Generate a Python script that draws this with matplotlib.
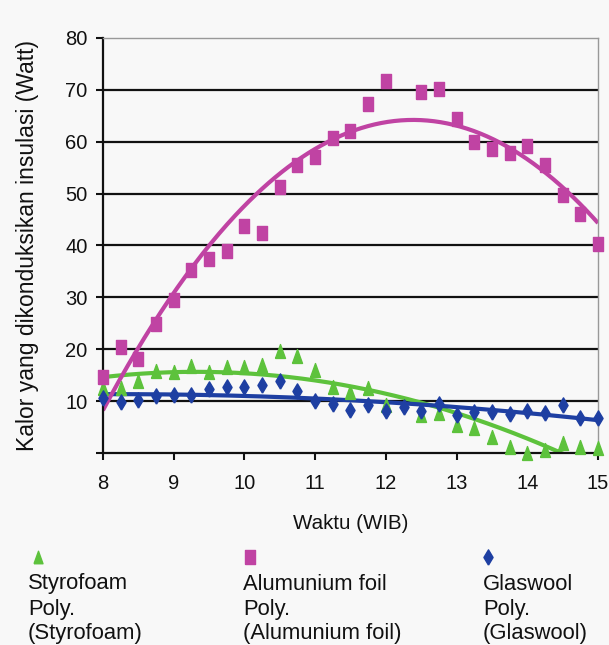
import numpy as np
import matplotlib.pyplot as plt
from matplotlib.lines import Line2D

plt.rcParams['font.family'] = ['Liberation Sans', 'DejaVu Sans']

# Waktu tiap 15 menit, 8.00 - 15.00
waktu = np.arange(8.0, 15.01, 0.25)

styrofoam = [12.5, 12.5, 13.9, 15.8, 15.6, 16.8, 15.6, 16.6, 16.6, 17.0,
             19.7, 18.7, 16.0, 12.7, 11.7, 12.5, 9.2, np.nan, 7.3, 7.7,
             5.4, 4.8, 3.1, 1.2, 0.0, 0.6, 1.9, 1.2, 1.0]

alumunium = [14.6, 20.5, 18.2, 24.9, 29.5, 35.3, 37.4, 39.0, 43.8, 42.4,
             51.2, 55.6, 57.0, 60.7, 62.1, 67.3, 71.8, np.nan, 69.5, 70.1,
             64.4, 60.0, 58.6, 57.8, 59.2, 55.5, 49.7, 46.0, 40.2]

glaswool = [10.6, 9.8, 10.2, 11.0, 11.2, 11.2, 12.3, 12.7, 12.7, 13.1,
            13.9, 11.9, 10.0, 9.4, 8.3, 9.2, 8.1, 8.9, 8.1, 9.4,
            7.3, 7.9, 7.9, 7.5, 8.1, 7.7, 9.2, 6.7, 6.7]

x_ticks = [8, 9, 10, 11, 12, 13, 14, 15]
y_ticks = [0, 10, 20, 30, 40, 50, 60, 70, 80]

hijau = '#5DC23C'
ungu = '#C043A3'
biru = '#1E3FA2'

# marker pipih (gambar asli agak tertekan horizontal)
tri = [(-0.36, -0.5), (0.36, -0.5), (0.0, 0.5), (-0.36, -0.5)]
kotak = [(-0.33, -0.5), (0.33, -0.5), (0.33, 0.5), (-0.33, 0.5), (-0.33, -0.5)]
wajik = [(0.0, -0.5), (0.3, 0.0), (0.0, 0.5), (-0.3, 0.0), (0.0, -0.5)]


def trend(x, y, order=2):
    """
    Garis tren polinomial seperti Excel
    """
    y = np.asarray(y, dtype=float)
    ok = ~np.isnan(y)
    coef = np.polyfit(x[ok], y[ok], order)
    xs = np.linspace(x[0], x[-1], 300)
    return xs, np.polyval(coef, xs)


def main():

    fig = plt.figure(figsize=(6.09, 6.45), dpi=100, facecolor='#F8F8F8')
    ax = fig.add_axes([0.169, 0.2977, 0.813, 0.6434])
    ax.set_facecolor('#F8F8F8')

    for val in y_ticks[1:-1]:
        ax.axhline(val, color='#111111', lw=1.6, zorder=1)

    # garis tren
    for data, col in [(styrofoam, hijau), (glaswool, biru), (alumunium, ungu)]:
        xs, ys = trend(waktu, data)
        ax.plot(xs, ys, color=col, lw=3, zorder=2, solid_capstyle='butt')

    ax.plot(waktu, styrofoam, ls='none', marker=tri, ms=10,
            color=hijau, mec=hijau, zorder=3, clip_on=False)
    ax.plot(waktu, glaswool, ls='none', marker=wajik, ms=11,
            color=biru, mec=biru, zorder=4, clip_on=False)
    ax.plot(waktu, alumunium, ls='none', marker=kotak, ms=10,
            color=ungu, mec=ungu, zorder=3, clip_on=False)

    ax.set_xlim(8, 15)
    ax.set_ylim(0, 80)
    ax.set_xticks(x_ticks)
    ax.set_yticks(y_ticks)
    ax.set_yticklabels([''] + [str(v) for v in y_ticks[1:]])
    ax.tick_params(axis='both', labelsize=14.5, colors='#111111',
                   direction='out', length=5, width=1.5)
    ax.tick_params(axis='x', pad=10)
    ax.tick_params(axis='y', pad=6)

    for side in ['left', 'bottom']:
        ax.spines[side].set_color('#111111')
        ax.spines[side].set_linewidth(1.6)
    for side in ['top', 'right']:
        ax.spines[side].set_color('#999999')
        ax.spines[side].set_linewidth(1.0)

    ax.set_xlabel('Waktu (WIB)', fontsize=14.8, color='#111111', labelpad=15)
    ax.set_ylabel('Kalor yang dikonduksikan insulasi (Watt)', fontsize=16.5,
                  color='#111111', labelpad=19)

    # legenda manual
    items = [
        (38, 28, 'Styrofoam', '(Styrofoam)', tri, hijau, 9),
        (250, 243, 'Alumunium foil', '(Alumunium foil)', kotak, ungu, 10),
        (488, 483, 'Glaswool', '(Glaswool)', wajik, biru, 11),
    ]
    W, H = 609, 645
    for mx, tx, nama, poly, mk, col, ms in items:
        fig.add_artist(Line2D([mx / W], [1 - 557 / H], marker=mk, ms=ms,
                              color=col, ls='none',
                              transform=fig.transFigure))
        for baris, teks in zip([584, 609, 634], [nama, 'Poly.', poly]):
            fig.text(tx / W, 1 - baris / H, teks, fontsize=15.8,
                     color='#111111', va='center', ha='left')

    fig.savefig('out.png', dpi=100, facecolor=fig.get_facecolor())


if __name__ == '__main__':
    main()
